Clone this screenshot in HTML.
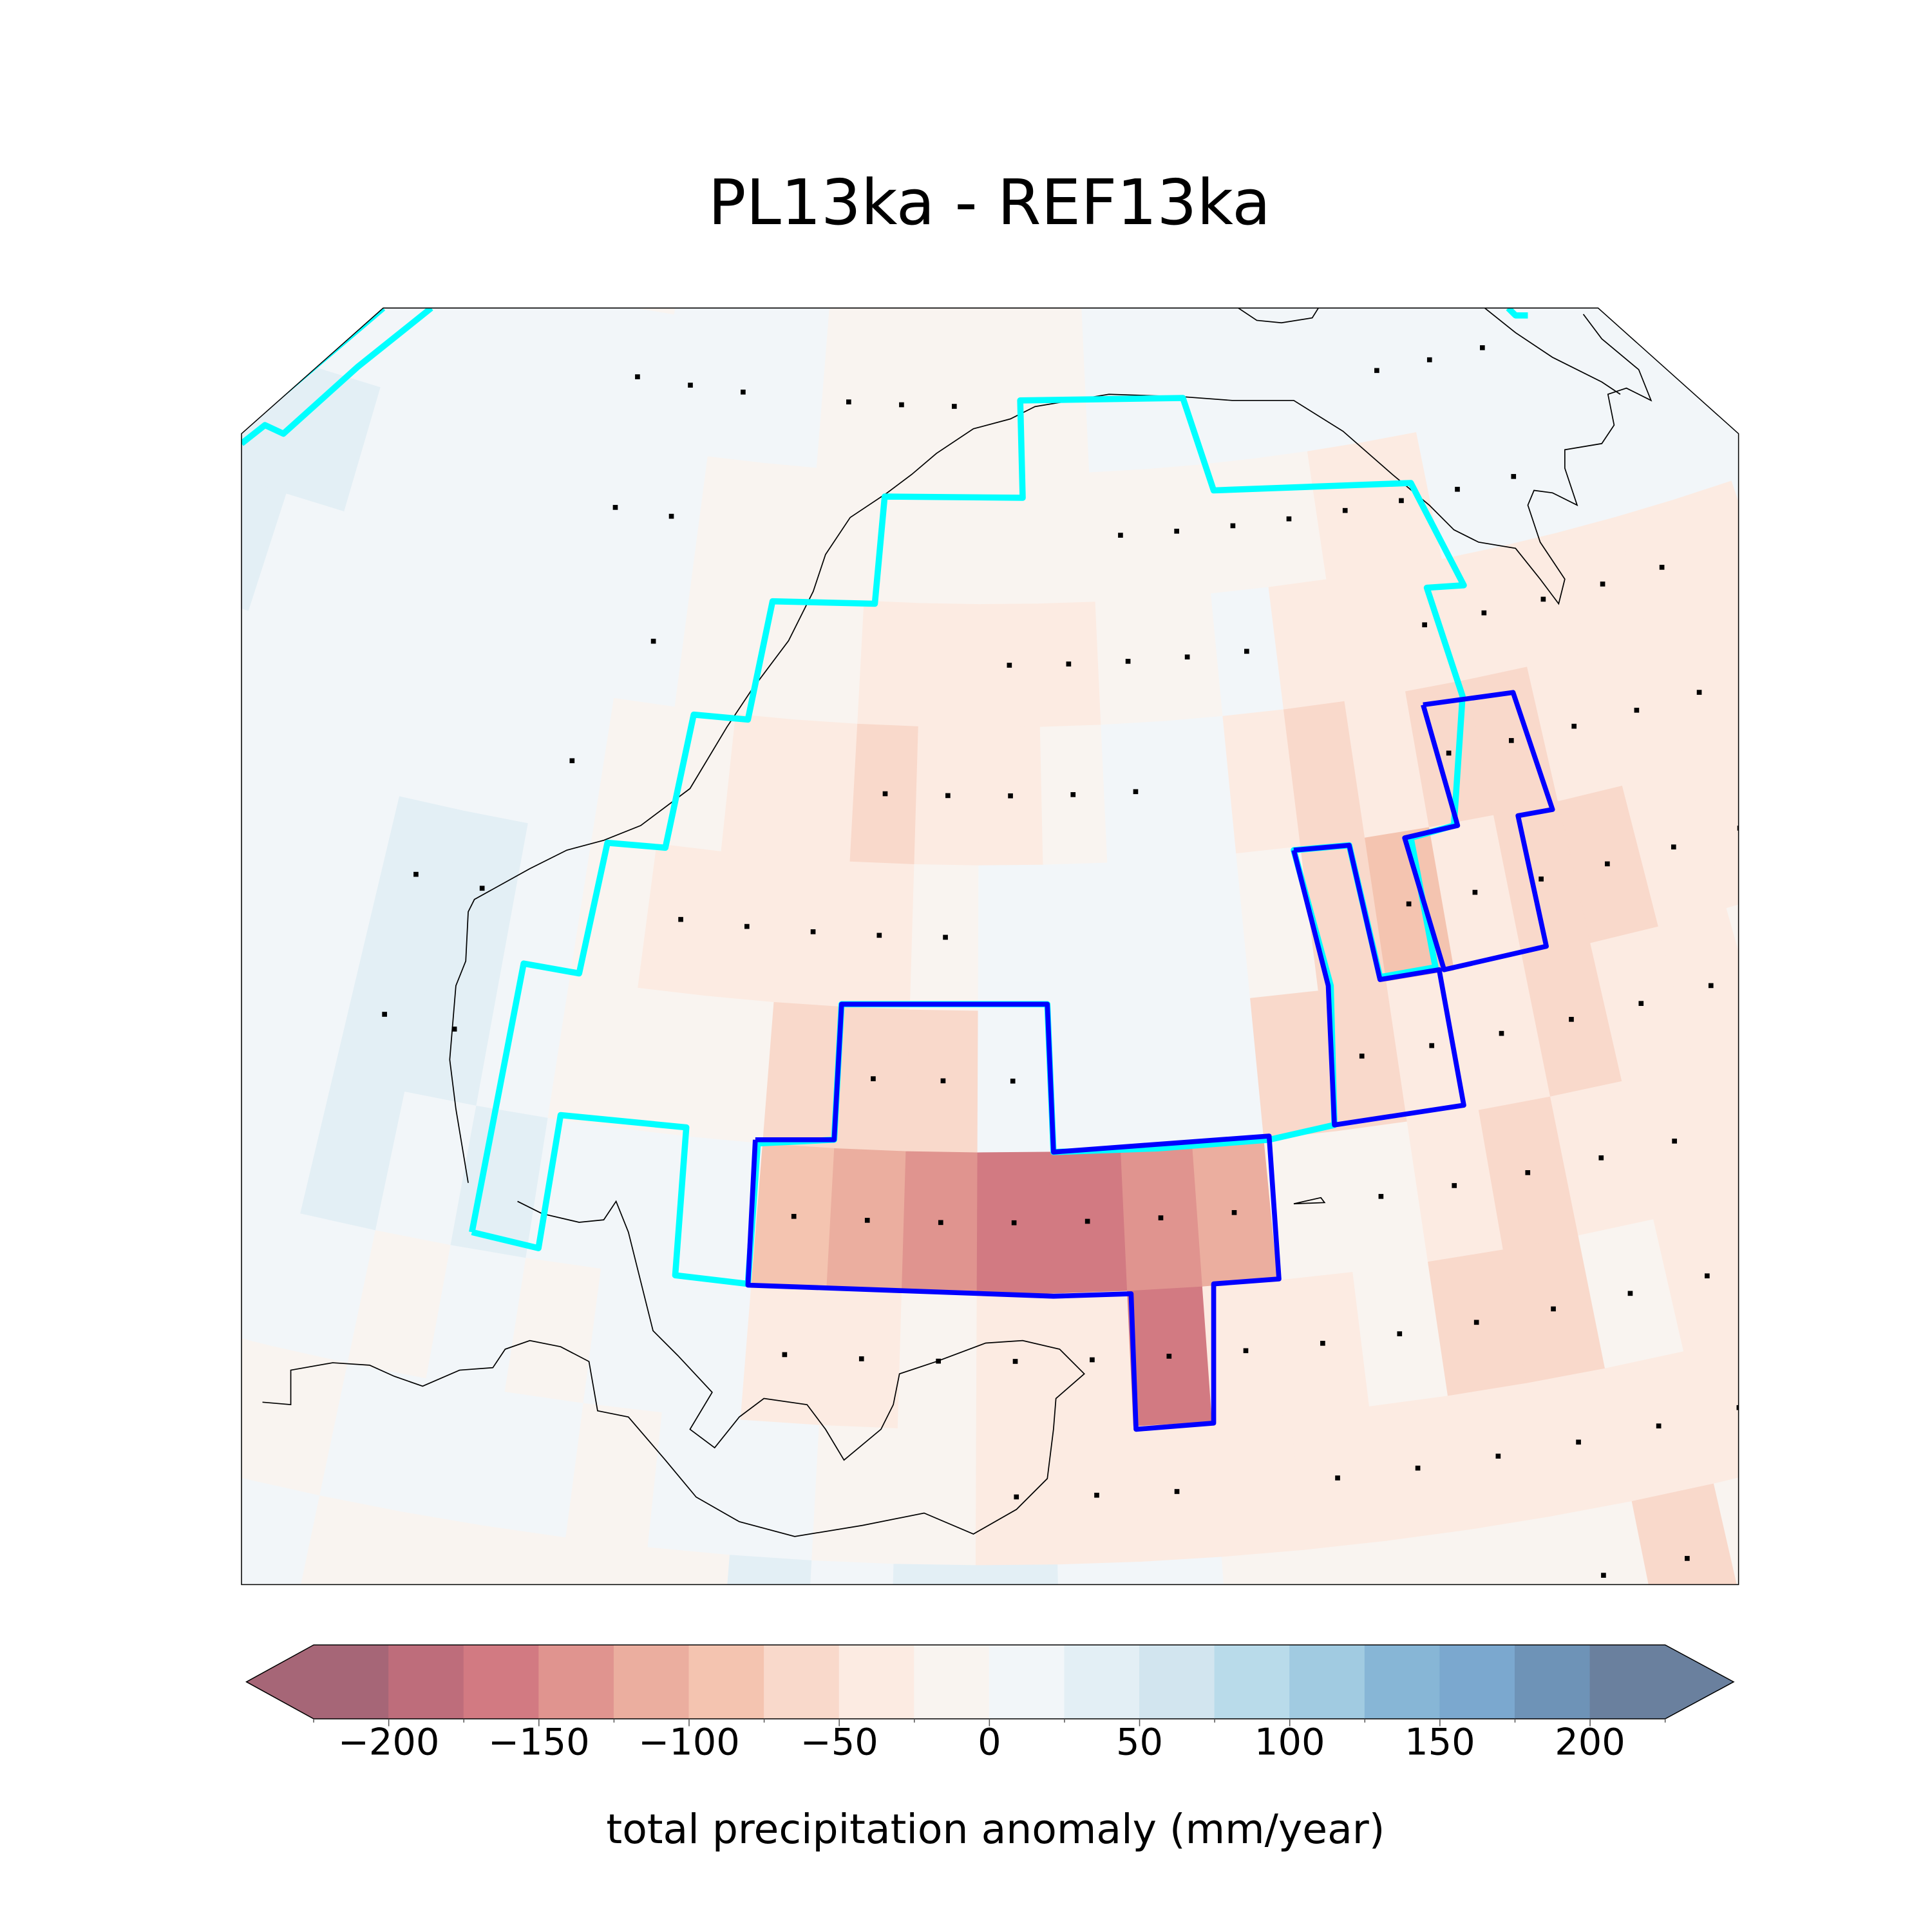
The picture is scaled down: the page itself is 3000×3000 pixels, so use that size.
<!DOCTYPE html>
<html><head><meta charset="utf-8"><style>
html,body{margin:0;padding:0;background:#fff;}
svg{display:block;}
text{font-family:"DejaVu Sans","Liberation Sans",sans-serif;}
</style></head><body>
<svg id="fig" xmlns="http://www.w3.org/2000/svg" width="3000" height="3000" viewBox="0 0 1568 1568">
<rect x="0" y="0" width="1568" height="1568" fill="#fff"/>
<text x="803" y="182" font-size="51" text-anchor="middle">PL13ka - REF13ka</text>
<defs><clipPath id="mapclip"><polygon points="196,352 311,250 1297,250 1411,352 1411,1286 196,1286"/></clipPath></defs>
<g id="map" clip-path="url(#mapclip)">
<rect x="196" y="250" width="1215" height="1036" fill="#f2f6f9"/>
<g id="cells"></g>
<g id="coast" fill="none" stroke="#000" stroke-width="0.9">
<polyline points="213,1138 236,1140 236,1112 270,1106 300,1108 320,1117 343,1125 373,1112 400,1110 410,1095 430,1088 455,1093 478,1105 485,1145 510,1150 540,1185 565,1215 600,1235 645,1247 700,1238 750,1228 790,1245 825,1225 850,1200 855,1160 857,1135 880,1115 860,1095 830,1088 800,1090 760,1105 730,1115 725,1140 715,1160 685,1185 670,1160 655,1140 620,1135 600,1150 580,1175 560,1160 578,1130 550,1100 530,1080 520,1040 510,1000 500,975 490,990 470,992 440,985 420,975"/>
<polyline points="380,960 370,900 365,860 370,800 378,780 380,740 385,730 430,705 460,690 490,682 520,670 560,640 590,590 610,560 640,520 660,480 670,450 690,420 720,400 740,385 760,368 790,348 820,340 840,330 870,325 900,320 960,322 1000,325 1050,325 1090,350 1130,385 1160,410 1180,430 1200,440 1230,445 1250,470 1265,490 1270,470 1250,440 1240,410 1245,398 1260,400 1280,410 1270,380 1270,365 1300,360 1310,345 1305,320 1320,315 1340,325 1330,300 1300,275 1285,255"/>
<polyline points="1005,250 1020,260 1040,262 1065,258 1070,250"/>
<polyline points="1205,250 1230,270 1260,290 1300,310 1315,320"/>
<polyline points="1050,977 1072,972 1075,976 1050,977"/>
</g>
<g fill="none" stroke-linejoin="round">
<polyline stroke="#00ffff" stroke-width="5" points="383,1000 425,782 470,790 493,684 540,688 563,580 607,584 627,488 710,490 718,403 830,404 828,325 960,323 985,398 1145,392 1188,475 1158,477 1187,565 1180,670 1145,680 1165,785 1120,793 1095,686 1050,690 1080,800 1083,913 1030,925 940,932 855,935 850,815 683,815 677,925 615,928 607,1042 548,1035 557,915 455,905 437,1013 383,1000"/>
<polyline stroke="#00ffff" stroke-width="5" points="196,360 215,345 230,352 290,298 350,250"/>
<polyline stroke="#00ffff" stroke-width="5" points="196,348 311,250"/>
<polyline stroke="#00ffff" stroke-width="5" points="1224,250 1230,256 1240,256"/>
<polyline stroke="#0000ff" stroke-width="4" points="613,925 677,925 683,815 850,815 855,935 1030,922 1038,1038 985,1042 985,1155 922,1160 918,1050 855,1052 607,1043 613,925"/>
<polyline stroke="#0000ff" stroke-width="4" points="1050,690 1095,686 1120,795 1168,787 1188,897 1083,913 1078,800 1050,690"/>
<polyline stroke="#0000ff" stroke-width="4" points="1155,572 1228,562 1260,657 1232,662 1255,768 1172,787 1140,680 1183,670 1155,572"/>
</g>
<g id="dots"></g>
</g>
<polygon points="196,352 311,250 1297,250 1411,352 1411,1286 196,1286" fill="none" stroke="#000" stroke-width="0.8"/>
<g id="cbar"></g>
<text x="808" y="1496" font-size="33" text-anchor="middle">total precipitation anomaly (mm/year)</text>
</svg>
<script>
// ---- data ----
const binEdges = [-225,-200,-175,-150,-125,-100,-75,-50,-25,0,25,50,75,100,125,150,175,200,225];
const binColors = ["#a66677","#be6d7b","#d27a82","#e0948f","#ebae9f","#f4c4b0","#f9d9cb","#fcebe2","#f9f4f0","#f2f6f9","#e3eff5","#d2e5ef","#b9dbea","#a1cbe1","#87b6d6","#7ba8cf","#6e93b7","#6a809e"];
const tickValues = [-200,-150,-100,-50,0,50,100,150,200];
const tickLabels = ["\u2212200","\u2212150","\u2212100","\u221250","0","50","100","150","200"];
const rowEdgesY = [1380,1270,1160,1050,935,820,702,590,490,385,275,165];
const colMin = -13;
const anomaly = [
 [10,10,10,10,10,-15,-15,-15,-15,-15,30,10,25,25,20,5,-25,-25,-25,-25,-25,-60,-25,-25,-25,-25],
 [10,10,10,-15,-15,10,10,10,-25,10,5,-10,-15,-45,-30,-30,-30,-30,-30,-30,-40,-30,-30,-40,-30,-30],
 [10,10,20,10,10,-15,10,-10,5,10,-35,-50,-20,-45,-45,-160,-30,-30,-25,-55,-55,-20,-30,-30,-30,-30],
 [10,10,10,10,30,10,30,10,5,10,-85,-115,-130,-160,-155,-135,-110,-20,-20,-40,-60,-40,-30,-30,-20,-30],
 [10,10,10,10,30,30,10,-10,-15,-10,-55,-70,-55,5,5,5,5,-60,-60,-35,-40,-65,-35,-30,-20,-20],
 [10,10,10,10,35,35,10,-10,-35,-35,-35,-35,-10,5,5,5,10,-20,-75,-90,-40,-60,-70,-35,-30,-30],
 [10,10,10,10,10,10,5,-10,-15,-45,-45,-70,-45,-45,-15,5,5,-50,-70,-35,-60,-70,-40,-30,-30,-30],
 [30,10,10,10,10,10,5,5,-15,-10,-10,-45,-45,-45,-35,-10,-10,5,-40,-50,-45,-40,-30,-30,-30,-30],
 [30,30,10,10,10,10,10,10,-15,-15,-15,-15,-15,-15,-15,-15,-15,-15,-15,-40,-35,10,10,10,10,10],
 [10,10,10,10,10,10,10,10,10,10,-15,-15,-15,-15,-15,10,10,10,10,10,10,10,10,10,10,10],
 [10,10,10,10,10,-15,-15,10,10,10,-15,-15,-15,-15,-15,10,10,10,10,10,10,10,10,10,10,10]
];
const sigCols = [
 [5,6,7,8,9,10],
 [0,1,2,4,5,6,7,8,9,10],
 [-3,-2,-1,0,1,2,3,4,5,6,7,8,9,10],
 [-3,-2,-1,0,1,2,3,5,6,7,8,9,10],
 [-2,-1,0,5,6,7,8,9,10,-9,-8],
 [-5,-4,-3,-2,-1,6,7,8,9,10,11,-9,-8],
 [-2,-1,0,1,2,7,8,9,10,11,-7],
 [0,1,2,3,4,7,8,9,10,11,-6],
 [2,3,4,5,6,7,8,9,-7,-6],
 [-7,-6,-5,-3,-2,-1,7,8,9],
 [-9]
];
const apexX = 803, apexY = -1370, Rref = 2420, colW = 61, colX0 = 793;
function theta(c){ return Math.asin((colX0 + colW*c - apexX)/Rref); }
function radius(yEdge){ return yEdge - apexY; }
function P(r, th){ return [apexX + r*Math.sin(th), apexY + r*Math.cos(th)]; }
function colorFor(v){
  for(let i=0;i<binColors.length;i++){ if(v>=binEdges[i] && v<binEdges[i+1]) return binColors[i]; }
  return v<0?binColors[0]:binColors[binColors.length-1];
}
const NS="http://www.w3.org/2000/svg";
const cellsG=document.getElementById('cells');
anomaly.forEach((row,ri)=>{
  const r0=radius(rowEdgesY[ri]), r1=radius(rowEdgesY[ri+1]);
  row.forEach((v,ci)=>{
    const c=colMin+ci, t0=theta(c), t1=theta(c+1);
    const pts=[P(r0,t0),P(r0,t1),P(r1,t1),P(r1,t0)].map(p=>p[0].toFixed(1)+','+p[1].toFixed(1)).join(' ');
    const poly=document.createElementNS(NS,'polygon');
    poly.setAttribute('points',pts);
    poly.setAttribute('fill',colorFor(v));
    poly.setAttribute('stroke',colorFor(v));
    poly.setAttribute('stroke-width','0.6');
    
    
    cellsG.appendChild(poly);
  });
});
const dotsG=document.getElementById('dots');
sigCols.forEach((cols,ri)=>{
  const rm=(radius(rowEdgesY[ri])+radius(rowEdgesY[ri+1]))/2;
  cols.forEach(c=>{
    const p=P(rm,(theta(c)+theta(c+1))/2);
    const d=document.createElementNS(NS,'rect');
    d.setAttribute('x',(p[0]-2).toFixed(1)); d.setAttribute('y',(p[1]-2).toFixed(1));
    d.setAttribute('width','4'); d.setAttribute('height','4'); d.setAttribute('fill','#000');
    
    
    dotsG.appendChild(d);
  });
});
const cb=document.getElementById('cbar');
const cbX0=803, cbPx=2.4375, cbTop=1335, cbBot=1395, cbMid=1365;
function cx(v){ return cbX0 + v*cbPx; }
binColors.forEach((col,i)=>{
  const a=cx(binEdges[i]), b=cx(binEdges[i+1]);
  const el=document.createElementNS(NS,'polygon');
  let pts;
  if(i===0) pts='200,'+cbMid+' '+a+','+cbTop+' '+b+','+cbTop+' '+b+','+cbBot+' '+a+','+cbBot;
  else if(i===binColors.length-1) pts=a+','+cbTop+' '+b+','+cbTop+' 1407,'+cbMid+' '+b+','+cbBot+' '+a+','+cbBot;
  else pts=a+','+cbTop+' '+b+','+cbTop+' '+b+','+cbBot+' '+a+','+cbBot;
  el.setAttribute('points',pts); el.setAttribute('fill',col); el.setAttribute('stroke',col); el.setAttribute('stroke-width','0.5');
  
  
  cb.appendChild(el);
});
const outline=document.createElementNS(NS,'polygon');
outline.setAttribute('points','200,'+cbMid+' '+cx(-225)+','+cbTop+' '+cx(225)+','+cbTop+' 1407,'+cbMid+' '+cx(225)+','+cbBot+' '+cx(-225)+','+cbBot);
outline.setAttribute('fill','none'); outline.setAttribute('stroke','#000'); outline.setAttribute('stroke-width','0.8');


cb.appendChild(outline);
binEdges.forEach(v=>{
  const x=cx(v);
  const t=document.createElementNS(NS,'line');
  t.setAttribute('x1',x); t.setAttribute('x2',x); t.setAttribute('y1',cbBot); t.setAttribute('y2',cbBot+(v%50===0?6:3));
  t.setAttribute('stroke','#555'); t.setAttribute('stroke-width','0.8');
  
  
  cb.appendChild(t);
});
tickValues.forEach((v,i)=>{
  const tx=document.createElementNS(NS,'text');
  tx.setAttribute('x',cx(v)); tx.setAttribute('y',1424); tx.setAttribute('font-size','30'); tx.setAttribute('text-anchor','middle');
  tx.textContent=tickLabels[i];
  
  
  cb.appendChild(tx);
});
</script>
</body></html>
